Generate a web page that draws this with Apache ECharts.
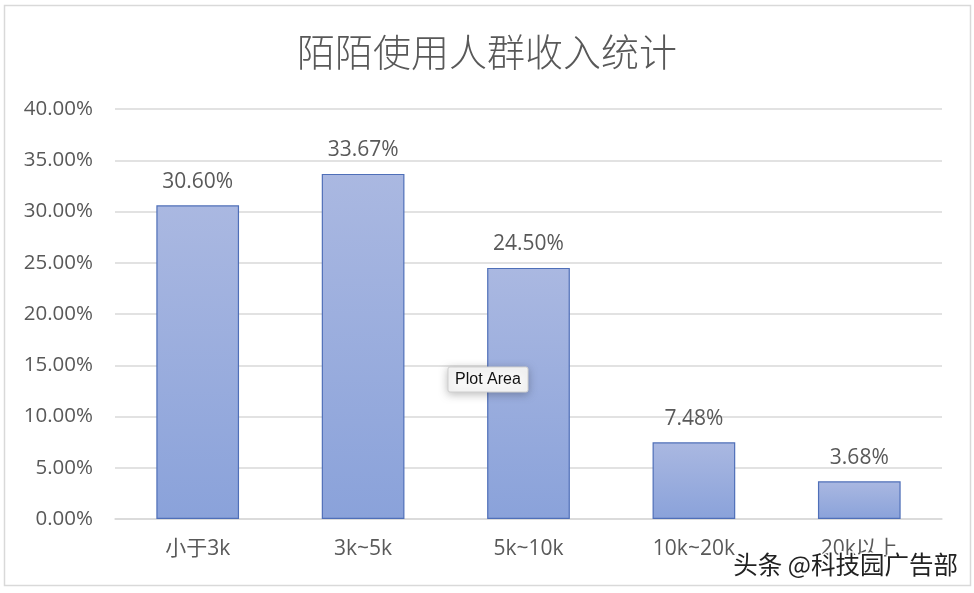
<!DOCTYPE html>
<html><head><meta charset="utf-8">
<script src="https://cdn.jsdelivr.net/npm/echarts@6/dist/echarts.min.js"></script>
<style>html,body{margin:0;padding:0;background:#fff}#c{width:974px;height:593px}</style>
</head><body><div id="c"></div>
<script>
const categories = ['小于3k', '3k~5k', '5k~10k', '10k~20k', '20k以上'];
const values = [30.60, 33.67, 24.50, 7.48, 3.68];
const title = '陌陌使用人群收入统计';

const chart = echarts.init(document.getElementById('c'));
const font = '"Open Sans", "Noto Sans CJK SC", sans-serif';
chart.setOption({
  animation: false,
  backgroundColor: '#fff',
  title: {
    text: title, left: 'center', top: 28,
    textStyle: { fontSize: 38, fontWeight: 300, color: '#595959', fontFamily: '"Noto Sans CJK SC", sans-serif' }
  },
  grid: { left: 115, right: 32, top: 109, bottom: 74 },
  xAxis: {
    type: 'category', data: categories,
    axisLine: { lineStyle: { color: '#d9d9d9', width: 1.5 } },
    axisTick: { show: false },
    axisLabel: { color: '#595959', fontSize: 21, margin: 20, fontFamily: font }
  },
  yAxis: {
    type: 'value', min: 0, max: 40, interval: 5,
    axisLine: { show: false }, axisTick: { show: false },
    splitLine: { lineStyle: { color: '#d9d9d9', width: 1.5 } },
    axisLabel: { color: '#595959', fontSize: 20.5, margin: 22, fontFamily: font,
      formatter: v => v.toFixed(2) + '%' }
  },
  series: [{
    type: 'bar', data: values, barWidth: '50%',
    itemStyle: {
      color: new echarts.graphic.LinearGradient(0, 0, 0, 1, [
        { offset: 0, color: '#aab8e1' }, { offset: 1, color: '#8aa2da' }
      ]),
      borderColor: '#4f6fb8', borderWidth: 1.2
    },
    label: { show: true, position: 'top', distance: 13, color: '#595959', fontSize: 21,
      fontFamily: font, formatter: p => p.value.toFixed(2) + '%' }
  }],
  graphic: [
    { type: 'rect', shape: { x: 4.5, y: 5.5, width: 966, height: 580 }, z: -1,
      style: { fill: 'none', stroke: '#d9d9d9', lineWidth: 1.5 } },
    { type: 'rect', shape: { x: 448, y: 367, width: 80, height: 25, r: 2 }, z: 100,
      style: { fill: '#f7f7f7', stroke: '#cfcfcf', lineWidth: 1, shadowBlur: 8, shadowColor: 'rgba(0,0,0,0.25)', shadowOffsetY: 2 } },
    { type: 'text', x: 488, y: 380, z: 101,
      style: { text: 'Plot Area', fill: '#111', font: '16px "Liberation Sans", sans-serif', align: 'center', verticalAlign: 'middle' } },
    { type: 'text', x: 958, y: 565, z: 102,
      style: { text: '头条 @科技园广告部', fill: '#222', font: '24.5px "Noto Sans CJK SC", sans-serif', align: 'right', verticalAlign: 'middle',
        stroke: '#fff', lineWidth: 3 } }
  ]
});
</script></body></html>
